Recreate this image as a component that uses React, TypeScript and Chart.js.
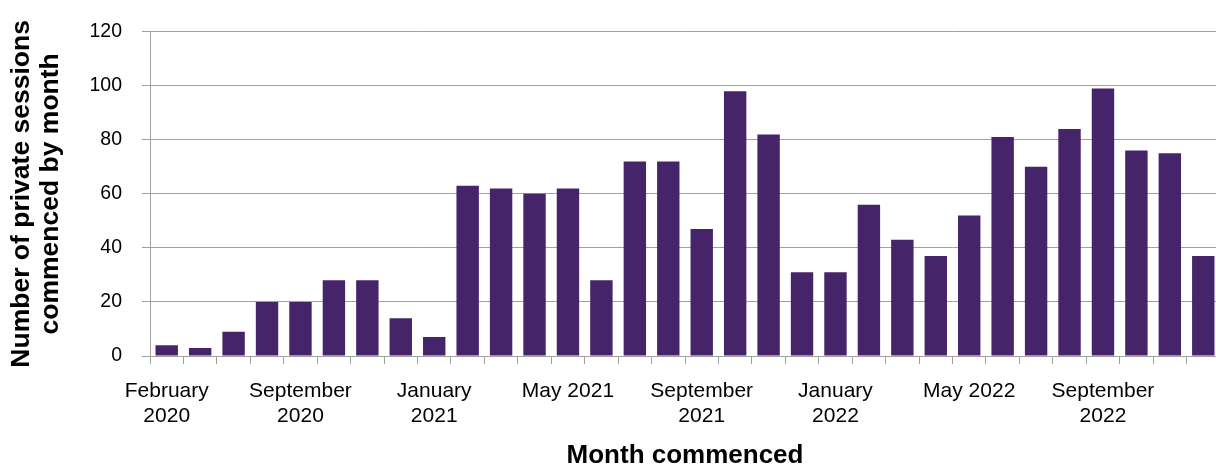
import React, { useEffect, useRef } from "react";
import { Chart, registerables } from "chart.js";

Chart.register(...registerables);

const months: string[] = [
  "February 2020", "June 2020", "July 2020", "August 2020",
  "September 2020", "October 2020", "November 2020", "December 2020",
  "January 2021", "February 2021", "March 2021", "April 2021",
  "May 2021", "June 2021", "July 2021", "August 2021",
  "September 2021", "October 2021", "November 2021", "December 2021",
  "January 2022", "February 2022", "March 2022", "April 2022",
  "May 2022", "June 2022", "July 2022", "August 2022",
  "September 2022", "October 2022", "November 2022", "December 2022",
];

const sessions: number[] = [
  4, 3, 9, 20, 20, 28, 28, 14, 7, 63, 62, 60, 62, 28, 72, 72,
  47, 98, 82, 31, 31, 56, 43, 37, 52, 81, 70, 84, 99, 76, 75, 37,
];

const xTickLabels: (string | string[])[] = [
  ["February", "2020"],
  ["September", "2020"],
  ["January", "2021"],
  "May 2021",
  ["September", "2021"],
  ["January", "2022"],
  "May 2022",
  ["September", "2022"],
];
const labelEvery = 4;

const yTitle: string[] = ["Number of private sessions", "commenced by month"];
const xTitle = "Month commenced";

const FONT = "'Liberation Sans', Arial, Helvetica, sans-serif";
const BAR_COLOR = "#462469";
const GRID_COLOR = "#a0a0a0";

export default function App() {
  const ref = useRef<HTMLCanvasElement>(null);

  useEffect(() => {
    if (!ref.current) return;
    const chart = new Chart(ref.current, {
      type: "bar",
      data: {
        labels: months,
        datasets: [
          {
            data: sessions,
            backgroundColor: BAR_COLOR,
            borderWidth: 0,
            categoryPercentage: 1,
            barPercentage: 0.67,
          },
        ],
      },
      options: {
        animation: false,
        responsive: false,
        maintainAspectRatio: false,
        layout: { padding: { top: 24, left: 0, right: 0, bottom: 0 } },
        plugins: {
          legend: { display: false },
          tooltip: { enabled: false },
        },
        scales: {
          x: {
            grid: {
              display: true,
              drawOnChartArea: false,
              drawTicks: true,
              tickLength: 8,
              color: GRID_COLOR,
              offset: true,
            },
            border: { display: true, color: GRID_COLOR },
            ticks: {
              autoSkip: false,
              maxRotation: 0,
              minRotation: 0,
              padding: 15,
              color: "#000",
              font: { family: FONT, size: 21, lineHeight: 1.19 },
              callback: (_v: any, i: number) =>
                i % labelEvery === 0 ? xTickLabels[i / labelEvery] ?? "" : "",
            },
            title: {
              display: true,
              text: xTitle,
              color: "#000",
              font: { family: FONT, size: 26, weight: "bold", lineHeight: 0.8 },
              padding: { top: 0, bottom: 0 },
            },
            afterFit: (s: any) => {
              s.height = 110;
            },
          },
          y: {
            min: 0,
            max: 120,
            ticks: {
              stepSize: 20,
              padding: 20,
              color: "#000",
              font: { family: FONT, size: 19.5 },
            },
            grid: { color: GRID_COLOR, tickLength: 8 },
            border: { display: true, color: GRID_COLOR },
            title: {
              display: true,
              text: yTitle,
              color: "#000",
              font: { family: FONT, size: 26.5, weight: "bold", lineHeight: 1.1 },
              padding: { top: 7, bottom: 0 },
            },
            afterFit: (s: any) => {
              s.width = 150;
            },
          },
        },
      } as any,
    });
    return () => chart.destroy();
  }, []);

  return (
    <div
      style={{
        position: "absolute",
        left: 0,
        top: 0,
        width: 1216,
        height: 466,
        overflow: "hidden",
        background: "#fff",
      }}
    >
      <canvas
        ref={ref}
        width={1220}
        height={466}
        style={{ display: "block", width: 1220, height: 466 }}
      />
    </div>
  );
}
